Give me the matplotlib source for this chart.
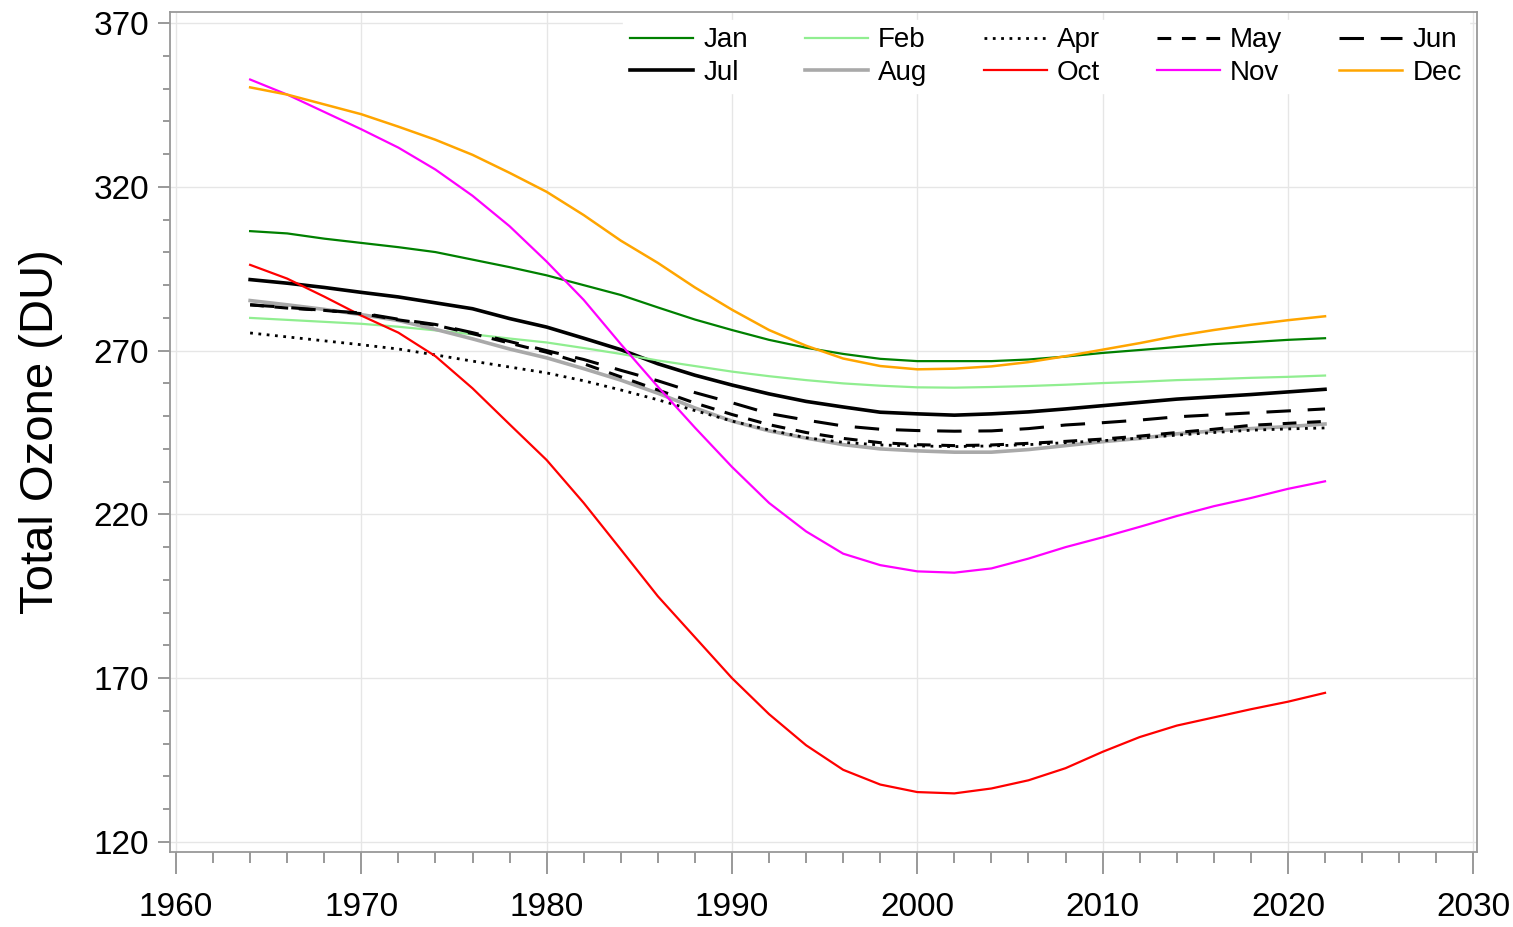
import matplotlib.pyplot as plt
from matplotlib.ticker import MultipleLocator

years = [1964, 1966, 1968, 1970, 1972, 1974, 1976, 1978, 1980, 1982,
         1984, 1986, 1988, 1990, 1992, 1994, 1996, 1998, 2000, 2002,
         2004, 2006, 2008, 2010, 2012, 2014, 2016, 2018, 2020, 2022]

jan = [306.5, 305.8, 304.2, 302.9, 301.6, 300.1, 297.8, 295.5, 293.0, 290.0,
       287.0, 283.2, 279.5, 276.3, 273.3, 270.9, 269.0, 267.5, 266.8, 266.8,
       266.8, 267.3, 268.2, 269.3, 270.2, 271.1, 272.0, 272.6, 273.3, 273.8]
feb = [280.0, 279.4, 278.8, 278.2, 277.3, 276.2, 275.0, 273.7, 272.5, 270.8,
       269.0, 267.0, 265.3, 263.6, 262.2, 261.0, 260.0, 259.3, 258.8, 258.7,
       258.9, 259.2, 259.6, 260.1, 260.5, 261.0, 261.3, 261.7, 262.0, 262.4]
apr = [275.4, 274.2, 273.0, 271.8, 270.5, 268.7, 266.8, 265.0, 263.2, 260.8,
       258.0, 255.0, 251.7, 248.5, 245.8, 243.4, 242.0, 241.2, 240.9, 240.7,
       240.9, 241.3, 241.9, 242.5, 243.3, 244.2, 245.0, 245.7, 246.1, 246.4]
may = [284.0, 283.0, 282.3, 281.3, 279.4, 277.8, 275.2, 272.3, 269.5, 266.0,
       262.0, 258.0, 254.0, 250.5, 247.4, 245.0, 243.2, 241.9, 241.3, 241.0,
       241.2, 241.7, 242.3, 243.0, 243.9, 245.0, 246.0, 247.2, 247.8, 248.4]
jun = [284.0, 283.2, 282.3, 281.5, 279.6, 278.0, 275.5, 272.8, 270.0, 267.3,
       264.0, 260.8, 257.2, 254.1, 250.8, 248.8, 247.0, 246.0, 245.6, 245.4,
       245.5, 246.2, 247.3, 248.0, 248.8, 249.8, 250.4, 251.0, 251.6, 252.2]
jul = [291.7, 290.6, 289.3, 287.8, 286.4, 284.6, 282.8, 279.8, 277.2, 273.8,
       270.3, 266.0, 262.5, 259.5, 256.8, 254.5, 252.8, 251.2, 250.7, 250.3,
       250.7, 251.3, 252.2, 253.2, 254.2, 255.2, 255.9, 256.6, 257.4, 258.2]
aug = [285.3, 284.0, 282.6, 281.0, 279.2, 276.5, 273.6, 270.5, 267.8, 264.5,
       261.0, 257.0, 252.5, 248.5, 245.5, 243.3, 241.3, 240.0, 239.4, 239.0,
       239.0, 239.8, 241.0, 242.2, 243.2, 244.6, 245.5, 246.2, 246.8, 247.6]
oct_ = [296.2, 292.0, 286.5, 280.7, 275.5, 268.3, 258.5, 247.5, 236.6, 223.5,
        209.3, 195.0, 182.5, 170.0, 159.0, 149.5, 142.0, 137.5, 135.2, 134.8,
        136.3, 138.8, 142.5, 147.5, 152.0, 155.5, 158.0, 160.5, 162.8, 165.5]
nov = [352.8, 348.2, 342.9, 337.6, 332.0, 325.3, 317.3, 308.0, 297.2, 285.5,
       272.0, 259.0, 246.5, 234.5, 223.5, 214.8, 208.0, 204.5, 202.6, 202.2,
       203.5, 206.5, 210.0, 213.0, 216.2, 219.5, 222.5, 225.0, 227.8, 230.1]
dec = [350.4, 348.2, 345.2, 342.2, 338.4, 334.4, 329.8, 324.3, 318.5, 311.4,
       303.6, 296.8, 289.3, 282.5, 276.3, 271.5, 267.6, 265.3, 264.3, 264.5,
       265.2, 266.5, 268.3, 270.3, 272.3, 274.5, 276.3, 277.9, 279.3, 280.5]

plt.rcParams['font.family'] = ['Liberation Sans', 'DejaVu Sans']

fig = plt.figure(figsize=(15.13, 9.27), dpi=100)
ax = fig.add_axes([0.1124, 0.0809, 0.8638, 0.9061])

# plotted in legend column order (legend fills column by column)
ax.plot(years, jan, color='#008000', lw=1.6, label='Jan')
ax.plot(years, jul, color='black', lw=2.6, label='Jul')
ax.plot(years, feb, color='#90EE90', lw=1.6, label='Feb')
ax.plot(years, aug, color='#A9A9A9', lw=2.6, label='Aug')
ax.plot(years, apr, color='black', lw=2.0, dashes=(1, 2), label='Apr')
ax.plot(years, oct_, color='red', lw=1.6, label='Oct')
ax.plot(years, may, color='black', lw=2.2, dashes=(4.5, 3.5), label='May')
ax.plot(years, nov, color='#FF00FF', lw=1.6, label='Nov')
ax.plot(years, jun, color='black', lw=2.2, dashes=(8, 5.5), label='Jun')
ax.plot(years, dec, color='#FFA500', lw=1.8, label='Dec')

ax.set_xlim(1959.68, 2030.2)
ax.set_ylim(116.9, 373.4)
ax.xaxis.set_major_locator(MultipleLocator(10))
ax.xaxis.set_minor_locator(MultipleLocator(2))
ax.yaxis.set_minor_locator(MultipleLocator(10))
ax.set_yticks([120, 170, 220, 270, 320, 370])

ax.grid(True, which='major', color='#e6e6e6', lw=1.0)
ax.set_axisbelow(True)
for s in ax.spines.values():
    s.set_color('#999999')
    s.set_linewidth(1.3)

ax.tick_params(axis='x', which='major', direction='out', length=16, width=1.2,
               color='#888888', labelsize=24, pad=13)
ax.tick_params(axis='x', which='minor', direction='out', length=8, width=1.2,
               color='#888888')
ax.tick_params(axis='y', which='major', direction='out', length=9, width=1.2,
               color='#888888', labelsize=24, pad=6)
ax.tick_params(axis='y', which='minor', direction='out', length=5, width=1.2,
               color='#888888')

ax.set_ylabel('Total Ozone (DU)', fontsize=34, labelpad=22)

leg = ax.legend(ncol=5, loc='upper right', fontsize=20, frameon=True,
                handlelength=2.27, handletextpad=0.36, columnspacing=2.05,
                labelspacing=0.23, borderaxespad=0.3, borderpad=0.25,
                fancybox=False)
leg.get_frame().set_facecolor('white')
leg.get_frame().set_edgecolor('white')
leg.get_frame().set_alpha(1)

fig.savefig('out.png', dpi=100)
